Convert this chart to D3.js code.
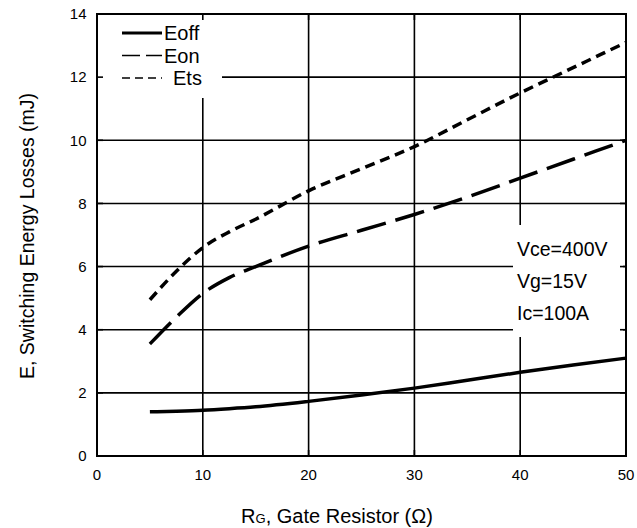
<!DOCTYPE html>
<html>
<head>
<meta charset="utf-8">
<script src="https://cdn.jsdelivr.net/npm/d3@7"></script>
<style>
  body { margin: 0; background: #fff; }
  text { font-family: "Liberation Sans", Arial, sans-serif; fill: #000; }
</style>
</head>
<body>
<div id="chart"></div>
<script>
var margin = {top: 14, right: 11, bottom: 72, left: 97},
    width = 637 - margin.left - margin.right,
    height = 528 - margin.top - margin.bottom;

// values
var xTicks = [0, 10, 20, 30, 40, 50];
var yTicks = [0, 2, 4, 6, 8, 10, 12, 14];
var rg = [5, 7.5, 10, 12.5, 15, 20, 25, 30, 35, 40, 45, 50];
var eoff = [1.4, 1.42, 1.45, 1.5, 1.56, 1.73, 1.93, 2.15, 2.4, 2.65, 2.88, 3.1];
var eon = [3.55, 4.4, 5.15, 5.65, 6.0, 6.65, 7.15, 7.65, 8.2, 8.8, 9.4, 10.0];
var ets = [4.95, 5.85, 6.6, 7.1, 7.5, 8.4, 9.1, 9.8, 10.65, 11.5, 12.3, 13.1];
var seriesNames = ["Eoff", "Eon", "Ets"];
var dashes = [null, "30,10", "10,6"];
var notes = ["Vce=400V", "Vg=15V", "Ic=100A"];

var svg = d3.select("#chart")
    .append("svg")
    .attr("width", width + margin.left + margin.right)
    .attr("height", height + margin.top + margin.bottom)
    .append("g")
    .attr("transform", "translate(" + margin.left + "," + margin.top + ")");

var x = d3.scaleLinear().domain([0, 50]).range([0, width]);
var y = d3.scaleLinear().domain([0, 14]).range([height, 0]);

// grid
svg.append("g")
    .selectAll("line")
    .data(xTicks)
    .enter()
    .append("line")
    .attr("x1", d => x(d)).attr("x2", d => x(d))
    .attr("y1", 0).attr("y2", height)
    .attr("stroke", "#000").attr("stroke-width", 1.6);

svg.append("g")
    .selectAll("line")
    .data(yTicks)
    .enter()
    .append("line")
    .attr("x1", 0).attr("x2", width)
    .attr("y1", d => y(d)).attr("y2", d => y(d))
    .attr("stroke", "#000").attr("stroke-width", 1.6);

// white boxes behind legend and notes
svg.append("rect")
    .attr("x", 0).attr("y", 0)
    .attr("width", 222 - margin.left).attr("height", 98 - margin.top)
    .attr("fill", "#fff");
svg.append("rect")
    .attr("x", 513 - margin.left).attr("y", 225 - margin.top)
    .attr("width", 110).attr("height", 112)
    .attr("fill", "#fff");

// inner ticks
var tk = 6;
var ticks = svg.append("g").attr("stroke", "#000").attr("stroke-width", 1.6);
xTicks.forEach(function (d) {
    ticks.append("line").attr("x1", x(d)).attr("x2", x(d)).attr("y1", 0).attr("y2", tk);
    ticks.append("line").attr("x1", x(d)).attr("x2", x(d)).attr("y1", height).attr("y2", height - tk);
});
yTicks.forEach(function (d) {
    ticks.append("line").attr("x1", 0).attr("x2", tk).attr("y1", y(d)).attr("y2", y(d));
    ticks.append("line").attr("x1", width).attr("x2", width - tk).attr("y1", y(d)).attr("y2", y(d));
});

// frame
svg.append("rect")
    .attr("x", 0).attr("y", 0)
    .attr("width", width).attr("height", height)
    .attr("fill", "none").attr("stroke", "#000").attr("stroke-width", 2);

// tick labels
svg.append("g")
    .selectAll("text")
    .data(xTicks)
    .enter()
    .append("text")
    .attr("x", d => x(d))
    .attr("y", height + 24)
    .style("text-anchor", "middle")
    .attr("font-size", 15)
    .text(d => d);

svg.append("g")
    .selectAll("text")
    .data(yTicks)
    .enter()
    .append("text")
    .attr("x", -10.5)
    .attr("y", d => y(d))
    .attr("dy", "0.35em")
    .style("text-anchor", "end")
    .attr("font-size", 15)
    .text(d => d);

// axis titles
var xt = svg.append("text")
    .attr("x", 337 - margin.left)
    .attr("y", 523 - margin.top)
    .style("text-anchor", "middle")
    .attr("font-size", 20);
xt.append("tspan").text("R");
xt.append("tspan").attr("font-size", 13).text("G");
xt.append("tspan").text(", Gate Resistor (\u03A9)");

svg.append("text")
    .attr("transform", "translate(" + (33.5 - margin.left) + "," + (236 - margin.top) + ") rotate(-90)")
    .style("text-anchor", "middle")
    .attr("font-size", 19.5)
    .text("E, Switching Energy Losses (mJ)");

// curves
var line = d3.line()
    .x(d => x(d[0]))
    .y(d => y(d[1]))
    .curve(d3.curveMonotoneX);

[eoff, eon, ets].forEach(function (vals, i) {
    svg.append("path")
        .datum(rg.map((r, j) => [r, vals[j]]))
        .attr("d", line)
        .attr("fill", "none")
        .attr("stroke", "#000")
        .attr("stroke-width", 3.5)
        .attr("stroke-dasharray", dashes[i]);
});

// legend
var legDash = [null, "18,6", "8,5"];
var leg = svg.append("g");
seriesNames.forEach(function (name, i) {
    var ly = 33 + i * 22.5 - margin.top;
    leg.append("line")
        .attr("x1", 122 - margin.left).attr("x2", 162 - margin.left)
        .attr("y1", ly).attr("y2", ly)
        .attr("stroke", "#000")
        .attr("stroke-width", i == 0 ? 3 : 1.6)
        .attr("stroke-dasharray", legDash[i]);
    leg.append("text")
        .attr("x", (i == 2 ? 173 : 164) - margin.left)
        .attr("y", ly)
        .attr("dy", "0.36em")
        .attr("font-size", 20)
        .text(name);
});

// test conditions
svg.append("g")
    .selectAll("text")
    .data(notes)
    .enter()
    .append("text")
    .attr("x", 517 - margin.left)
    .attr("y", (d, i) => 249 + i * 32 - margin.top)
    .attr("dy", "0.35em")
    .attr("font-size", 19.5)
    .text(d => d);
</script>
</body>
</html>
